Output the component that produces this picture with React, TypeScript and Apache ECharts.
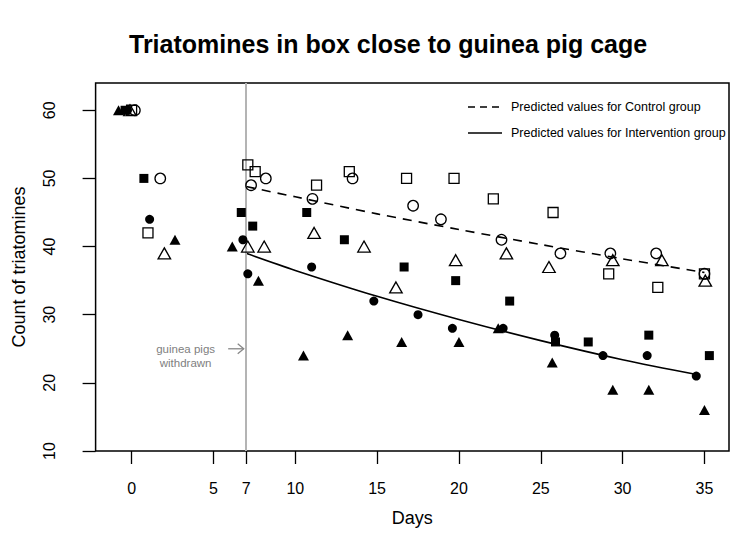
import React, { useEffect, useRef } from "react";
import * as echarts from "echarts";

const xTicks = [0, 5, 7, 10, 15, 20, 25, 30, 35];
const yTicks = [10, 20, 30, 40, 50, 60];

// Intervention group (filled symbols)
const intSquareDays = [-0.4, 0.75, 6.7, 7.4, 10.7, 13.0, 16.65, 19.8, 23.1, 25.9, 27.9, 31.6, 35.3];
const intSquareCounts = [60, 50, 45, 43, 45, 41, 37, 35, 32, 26, 26, 27, 24];
const intCircleDays = [-0.25, 1.1, 6.8, 7.1, 11.0, 14.8, 17.5, 19.6, 22.7, 25.85, 28.8, 31.5, 34.5];
const intCircleCounts = [60, 44, 41, 36, 37, 32, 30, 28, 28, 27, 24, 24, 21];
const intTriangleDays = [-0.8, 2.65, 6.15, 7.75, 10.5, 13.2, 16.5, 20.0, 22.4, 25.7, 29.4, 31.6, 35.0];
const intTriangleCounts = [60, 41, 40, 35, 24, 27, 26, 26, 28, 23, 19, 19, 16];

// Control group (open symbols)
const ctlSquareDays = [0.0, 1.0, 7.1, 7.55, 11.3, 13.3, 16.8, 19.7, 22.1, 25.75, 29.15, 32.15, 35.0];
const ctlSquareCounts = [60, 42, 52, 51, 49, 51, 50, 50, 47, 45, 36, 34, 36];
const ctlCircleDays = [0.2, 1.75, 7.3, 8.2, 11.05, 13.5, 17.2, 18.9, 22.6, 26.2, 29.25, 32.05, 35.0];
const ctlCircleCounts = [60, 50, 49, 50, 47, 50, 46, 44, 41, 39, 39, 39, 36];
const ctlTriangleDays = [-0.1, 2.0, 7.1, 8.1, 11.15, 14.2, 16.15, 19.8, 22.9, 25.5, 29.4, 32.4, 35.05];
const ctlTriangleCounts = [60, 39, 40, 40, 42, 40, 34, 38, 39, 37, 38, 38, 35];

// Predicted values
const controlPredDays = [7, 10, 15, 20, 25, 30, 35];
const controlPred = [48.8, 47.3, 44.8, 42.5, 40.3, 38.2, 36.2];
const interventionPredDays = [7, 10, 15, 20, 25, 30, 34.6];
const interventionPred = [39.0, 36.5, 32.7, 29.3, 26.2, 23.4, 21.2];

const withdrawDay = 7;

const zip = (xs: number[], ys: number[]) => xs.map((x, i) => [x, ys[i]]);

const FONT = "Liberation Sans, Arial, Helvetica, sans-serif";

export default function App() {
  const ref = useRef<HTMLDivElement>(null);
  useEffect(() => {
    if (!ref.current) return;
    const chart = echarts.init(ref.current, undefined, { renderer: "svg" });
    const filled = (name: string, symbol: string, size: any, data: number[][]) => ({
      name,
      type: "scatter",
      symbol,
      symbolSize: size,
      data,
      itemStyle: { color: "#000", opacity: 1 },
      z: 5,
    });
    const open = (name: string, symbol: string, size: any, data: number[][]) => ({
      name,
      type: "scatter",
      symbol,
      symbolSize: size,
      data,
      itemStyle: { color: "rgba(255,255,255,0)", borderColor: "#000", borderWidth: 1.3, opacity: 1 },
      z: 5,
    });
    chart.setOption({
      animation: false,
      textStyle: { fontFamily: FONT },
      title: {
        text: "Triatomines in box close to guinea pig cage",
        left: 129,
        top: 31,
        padding: 0,
        textStyle: { fontFamily: FONT, fontSize: 25, fontWeight: "bold", color: "#000" },
      },
      grid: {
        left: 95.6,
        right: 9,
        top: 83,
        bottom: 96,
        show: true,
        borderColor: "#000",
        borderWidth: 1.5,
      },
      xAxis: {
        type: "value",
        min: -2.2,
        max: 36.5,
        name: "Days",
        nameLocation: "middle",
        nameGap: 58,
        nameTextStyle: { fontFamily: FONT, fontSize: 18, color: "#000" },
        axisLine: { show: false, onZero: false },
        axisTick: { show: true, inside: false, length: 13, customValues: xTicks, lineStyle: { color: "#000", width: 1.3 } },
        axisLabel: { customValues: xTicks, margin: 29, fontFamily: FONT, fontSize: 16, color: "#000" },
        splitLine: { show: false },
      },
      yAxis: {
        type: "value",
        min: 10,
        max: 64,
        interval: 10,
        name: "Count of triatomines",
        nameLocation: "middle",
        nameRotate: 90,
        nameGap: 68,
        nameTextStyle: { fontFamily: FONT, fontSize: 18, color: "#000" },
        axisLine: { show: false, onZero: false },
        axisTick: { show: true, inside: false, length: 13, customValues: yTicks, lineStyle: { color: "#000", width: 1.3 } },
        axisLabel: { customValues: yTicks, rotate: 90, margin: 38, fontFamily: FONT, fontSize: 16, color: "#000" },
        splitLine: { show: false },
      },
      series: [
        {
          name: "Predicted values for Control group",
          type: "line",
          data: zip(controlPredDays, controlPred),
          smooth: 0.3,
          showSymbol: false,
          lineStyle: { color: "#000", width: 1.6, type: [9, 7] },
          z: 3,
          markLine: {
            silent: true,
            symbol: ["none", "none"],
            label: { show: false },
            lineStyle: { color: "#b4b4b4", width: 2, type: "solid" },
            data: [{ xAxis: withdrawDay }],
          },
        },
        {
          name: "Predicted values for Intervention group",
          type: "line",
          data: zip(interventionPredDays, interventionPred),
          smooth: 0.3,
          showSymbol: false,
          lineStyle: { color: "#000", width: 1.6, type: "solid" },
          z: 3,
        },
        filled("Intervention square", "rect", 9, zip(intSquareDays, intSquareCounts)),
        filled("Intervention circle", "circle", 9, zip(intCircleDays, intCircleCounts)),
        filled("Intervention triangle", "triangle", [11, 10], zip(intTriangleDays, intTriangleCounts)),
        open("Control square", "rect", 10, zip(ctlSquareDays, ctlSquareCounts)),
        open("Control circle", "circle", 10.5, zip(ctlCircleDays, ctlCircleCounts)),
        open("Control triangle", "triangle", [12.5, 11], zip(ctlTriangleDays, ctlTriangleCounts)),
      ],
    });

    const p = (x: number, y: number) => chart.convertToPixel({ gridIndex: 0 }, [x, y]) as number[];
    const a0 = p(5.9, 25);
    const a1 = p(6.85, 25);
    const txt = p(3.3, 24);
    chart.setOption({
      graphic: [
        // legend
        { type: "line", shape: { x1: 468, y1: 107, x2: 502, y2: 107 }, style: { stroke: "#000", lineWidth: 1.6, lineDash: [7, 5] } },
        { type: "text", x: 511, y: 107, style: { text: "Predicted values for Control group", fontFamily: FONT, fontSize: 12.5, fill: "#000", verticalAlign: "middle", align: "left" } },
        { type: "line", shape: { x1: 468, y1: 133, x2: 502, y2: 133 }, style: { stroke: "#000", lineWidth: 1.6 } },
        { type: "text", x: 511, y: 133, style: { text: "Predicted values for Intervention group", fontFamily: FONT, fontSize: 12.5, fill: "#000", verticalAlign: "middle", align: "left" } },
        // annotation
        { type: "line", shape: { x1: a0[0], y1: a0[1], x2: a1[0], y2: a1[1] }, style: { stroke: "#888", lineWidth: 1.3 } },
        { type: "polyline", shape: { points: [[a1[0] - 6, a1[1] - 5], [a1[0], a1[1]], [a1[0] - 6, a1[1] + 5]] }, style: { stroke: "#888", lineWidth: 1.3, fill: "none" } },
        { type: "text", x: txt[0], y: txt[1], style: { text: "guinea pigs\nwithdrawn", fontFamily: FONT, fontSize: 11.5, lineHeight: 14, fill: "#808080", align: "center", verticalAlign: "middle" } },
      ],
    });
    return () => chart.dispose();
  }, []);
  return <div ref={ref} style={{ position: "fixed", left: 0, top: 0, width: 738, height: 547, background: "#fff" }} />;
}
